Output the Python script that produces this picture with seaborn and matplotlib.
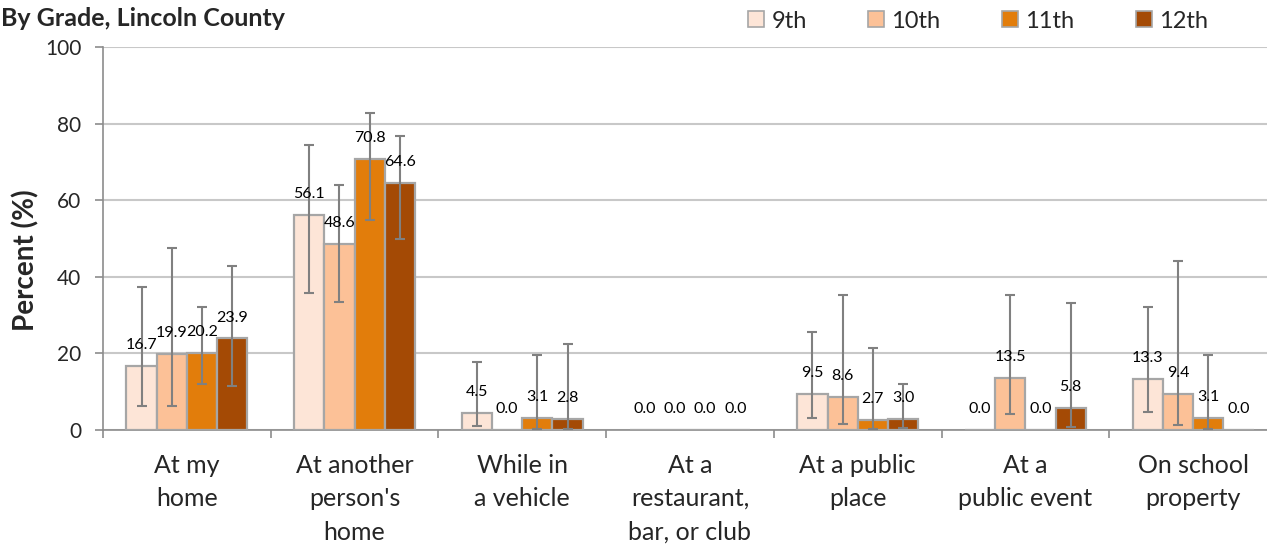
import matplotlib
matplotlib.use("Agg")
import matplotlib.pyplot as plt
import pandas as pd
import seaborn as sns
from matplotlib.patches import Patch

# categories and grades
locations = ["At my\nhome", "At another\nperson's\nhome", "While in\na vehicle",
             "At a\nrestaurant,\nbar, or club", "At a public\nplace", "At a\npublic event",
             "On school\nproperty"]
grades = ["9th", "10th", "11th", "12th"]

# percent values per grade
pct_9th = [16.7, 56.1, 4.5, 0.0, 9.5, 0.0, 13.3]
pct_10th = [19.9, 48.6, 0.0, 0.0, 8.6, 13.5, 9.4]
pct_11th = [20.2, 70.8, 3.1, 0.0, 2.7, 0.0, 3.1]
pct_12th = [23.9, 64.6, 2.8, 0.0, 3.0, 5.8, 0.0]

# confidence interval bounds
ci_low_9th = [6.3, 35.7, 1.0, 0.0, 3.1, 0.0, 4.6]
ci_high_9th = [37.3, 74.3, 17.8, 0.0, 25.6, 0.0, 32.1]
ci_low_10th = [6.3, 33.3, 0.0, 0.0, 1.5, 4.2, 1.2]
ci_high_10th = [47.5, 64.0, 0.0, 0.0, 35.3, 35.3, 44.2]
ci_low_11th = [12.0, 54.8, 0.2, 0.0, 0.2, 0.0, 0.2]
ci_high_11th = [32.1, 82.7, 19.5, 0.0, 21.3, 0.0, 19.5]
ci_low_12th = [11.5, 50.0, 0.2, 0.0, 0.6, 0.7, 0.0]
ci_high_12th = [42.9, 76.8, 22.5, 0.0, 12.1, 33.1, 0.0]

colors = ["#FDE5D7", "#FCC197", "#E27D0B", "#A44A05"]
edge = "#A6A6A6"
err_color = "#808080"

values = [pct_9th, pct_10th, pct_11th, pct_12th]
lows = [ci_low_9th, ci_low_10th, ci_low_11th, ci_low_12th]
highs = [ci_high_9th, ci_high_10th, ci_high_11th, ci_high_12th]

rows = []
for g, vals in zip(grades, values):
    for loc, v in zip(locations, vals):
        rows.append({"location": loc, "grade": g, "pct": v})
df = pd.DataFrame(rows)

sns.set_theme(style="white")
plt.rcParams['font.family'] = ['Lato', 'DejaVu Sans']

fig = plt.figure(figsize=(12.67, 5.48), dpi=100)
ax = fig.add_axes([103 / 1267, 118 / 548, 1174 / 1267, 383 / 548])

sns.barplot(data=df, x="location", y="pct", hue="grade", hue_order=grades,
            palette=colors, saturation=1, width=0.72, edgecolor=edge, linewidth=1.6,
            errorbar=None, ax=ax, legend=False, zorder=3)

bar_conts = list(ax.containers)
for i, cont in enumerate(bar_conts):
    for j, bar in enumerate(cont):
        xc = bar.get_x() + bar.get_width() / 2
        v = values[i][j]
        lo, hi = lows[i][j], highs[i][j]
        if hi > 0:
            ax.errorbar(xc, v, yerr=[[v - lo], [hi - v]], fmt="none",
                        ecolor=err_color, elinewidth=1.5, capsize=3.5,
                        capthick=1.5, zorder=4)
        ax.annotate(f"{v:.1f}", (xc, v), xytext=(0, 10), textcoords="offset points",
                    ha="center", va="bottom", fontsize=11.5, color="black", zorder=5)

ax.set_ylim(0, 100)
ax.set_xlim(-0.5, 6.5)
ax.set_yticks([0, 20, 40, 60, 80, 100])
ax.yaxis.grid(True, color="#C8C8C8", linewidth=1.5)
ax.set_axisbelow(True)
for s in ["top", "right"]:
    ax.spines[s].set_visible(False)
ax.spines["left"].set_color("#8C8C8C")
ax.spines["bottom"].set_color("#8C8C8C")
ax.spines["left"].set_linewidth(1.2)
ax.spines["bottom"].set_linewidth(1.2)

ax.tick_params(axis="y", which="major", left=True, length=5.5, width=1.2,
               color="#8C8C8C", labelsize=15, pad=10)
ax.set_xticks([x - 0.5 for x in range(8)], minor=True)
ax.tick_params(axis="x", which="minor", bottom=True, length=5.5, width=1.2,
               color="#8C8C8C")
ax.tick_params(axis="x", which="major", length=0, labelsize=18, pad=17)
for lbl in ax.get_xticklabels():
    lbl.set_linespacing(1.55)
    lbl.set_va("top")

ax.set_xlabel("")
ax.set_ylabel("")
fig.text(26 / 1267, 1 - 260 / 548, "Percent (%)", rotation=90, ha="center",
         va="center", fontsize=20, fontweight="bold")
fig.text(1 / 1267, 1 - 18 / 548, "By Grade, Lincoln County", ha="left",
         va="center", fontsize=18, fontweight="bold")

handles = [Patch(facecolor=c, edgecolor=edge, linewidth=1.2) for c in colors]
fig.legend(handles, grades, loc="center", bbox_to_anchor=(978 / 1267, 1 - 21 / 548),
           ncol=4, frameon=False, fontsize=17, handlelength=0.68, handleheight=0.68,
           handletextpad=0.3, columnspacing=2.6, borderpad=0.2)

fig.savefig("out.png", dpi=100)
